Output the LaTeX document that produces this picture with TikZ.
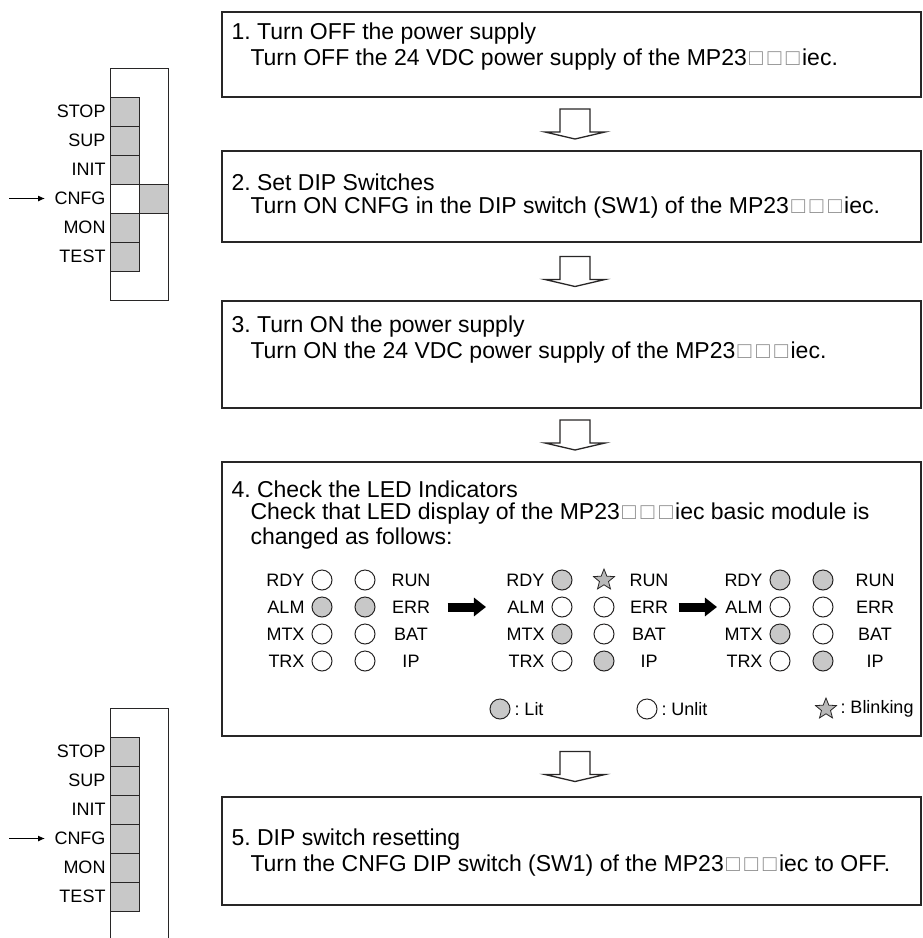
\documentclass[tikz,border=0pt]{standalone}
\usepackage{fontspec}
\setmainfont{Liberation Sans}
\usetikzlibrary{shapes.geometric,calc,arrows.meta}
\definecolor{litgray}{RGB}{200,200,200}
\definecolor{linegray}{RGB}{40,38,38}
\newcommand{\mpsq}{\textcolor{gray!90}{\makebox[0.8em]{□}\makebox[0.8em]{□}\makebox[0.8em]{□}}}
\frenchspacing

\begin{document}
\begin{tikzpicture}[x=1pt,y=-1pt,>={Latex[length=7pt,width=6pt]},line width=1pt,
  stepbox/.style={draw=linegray,line width=1.2pt,minimum width=699pt,inner sep=0pt},
  txt/.style={anchor=west,inner sep=0pt,font=\fontsize{23}{26}\selectfont},
  diplabel/.style={anchor=east,inner sep=0pt,font=\fontsize{18}{22}\selectfont},
  cell/.style={draw=linegray,fill=litgray},
  ledlabel/.style={inner sep=0pt,font=\fontsize{18}{22}\selectfont},
  lit/.style={circle,draw=linegray,fill=litgray,minimum size=20pt,inner sep=0pt},
  unlit/.style={circle,draw=linegray,fill=white,minimum size=20pt,inner sep=0pt},
  blink/.style={star,star points=5,star point ratio=2.3,draw=linegray,fill=litgray!80!gray,minimum size=22pt,inner sep=0pt,line width=0.8pt},
  flowarrow/.pic={\draw[linegray,line width=1.3pt,fill=white]
    (-15,-15) -- (15,-15) -- (15,8) -- (30,8) -- (0,15) -- (-30,8) -- (-15,8) -- cycle;},
  bigarrow/.style={line width=9pt,-{Triangle[length=12pt,width=18pt]}}]
  \useasboundingbox (0,0) rectangle (922,938);

  % DIP switch before the steps
  \draw[linegray] (110,68) rectangle (168,300);
  \foreach \lab [count=\i from 0] in {STOP,SUP,INIT,CNFG,MON,TEST}
    \node[diplabel] (up\lab) at (106,{111.5+29*\i}) {\lab};
  \foreach \i in {0,1,2,4,5}
    \draw[cell] (110,{97+29*\i}) rectangle ++(29,29);
  \draw[linegray] (110,184) rectangle ++(29,29);
  \draw[cell] (139,184) rectangle ++(29,29);
  \coordinate (upin) at (9,198.5);
  \draw[->] (upin) -- ([xshift=-9pt]upCNFG.west);

  % DIP switch after the steps
  \draw[linegray] (110,938) -- (110,708) -- (168,708) -- (168,938);
  \foreach \lab [count=\i from 0] in {STOP,SUP,INIT,CNFG,MON,TEST}{
    \node[diplabel] (dn\lab) at (106,{751.5+29*\i}) {\lab};
    \draw[cell] (110,{737+29*\i}) rectangle ++(29,29);
  }
  \coordinate (dnin) at (9,838.5);
  \draw[->] (dnin) -- ([xshift=-9pt]dnCNFG.west);

  % step 1
  \node[stepbox,minimum height=85pt] (s1) at (571.5,54.5) {};
  \node[txt] (s1a) at (231,34) {1. Turn OFF the power supply};
  \node[txt] (s1b) at (250,60) {Turn OFF the 24 VDC power supply of the MP23\mpsq iec.};

  % step 2
  \node[stepbox,minimum height=91pt] (s2) at (571.5,196.5) {};
  \node[txt] (s2a) at (231,182) {2. Set DIP Switches};
  \node[txt] (s2b) at (250,208) {Turn ON CNFG in the DIP switch (SW1) of the MP23\mpsq iec.};

  % step 3
  \node[stepbox,minimum height=107pt] (s3) at (571.5,354.5) {};
  \node[txt] (s3a) at (231,327) {3. Turn ON the power supply};
  \node[txt] (s3b) at (250,353) {Turn ON the 24 VDC power supply of the MP23\mpsq iec.};

  % step 4
  \node[stepbox,minimum height=274pt] (s4) at (571.5,599) {};
  \node[txt] (s4a) at (231,489) {4. Check the LED Indicators};
  \node[txt] (s4b) at (250,514) {Check that LED display of the MP23\mpsq iec basic module is};
  \node[txt] (s4c) at (250,539) {changed as follows:};

  % LEDs, before
  \foreach \l/\r/\sl/\sr [count=\i from 0] in
    {RDY/RUN/unlit/unlit, ALM/ERR/lit/lit, MTX/BAT/unlit/unlit, TRX/IP/unlit/unlit}{
    \node[ledlabel,anchor=east] (ga\l) at (305,{580+27*\i}) {\l};
    \node[\sl] (gaL\i) at (322,{580+27*\i}) {};
    \node[\sr] (gaR\i) at (365,{580+27*\i}) {};
    \node[ledlabel] (ga\r) at (411,{580+27*\i}) {\r};
  }
  % LEDs, during
  \foreach \l/\r/\sl/\sr [count=\i from 0] in
    {RDY/RUN/lit/blink, ALM/ERR/unlit/unlit, MTX/BAT/lit/unlit, TRX/IP/unlit/lit}{
    \node[ledlabel,anchor=east] (gb\l) at (545,{580+27*\i}) {\l};
    \node[\sl] (gbL\i) at (562,{580+27*\i}) {};
    \node[\sr] (gbR\i) at (604,{580+27*\i}) {};
    \node[ledlabel] (gb\r) at (649,{580+27*\i}) {\r};
  }
  % LEDs, after
  \foreach \l/\r/\sl/\sr [count=\i from 0] in
    {RDY/RUN/lit/lit, ALM/ERR/unlit/unlit, MTX/BAT/lit/unlit, TRX/IP/unlit/lit}{
    \node[ledlabel,anchor=east] (gc\l) at (763,{580+27*\i}) {\l};
    \node[\sl] (gcL\i) at (780,{580+27*\i}) {};
    \node[\sr] (gcR\i) at (823,{580+27*\i}) {};
    \node[ledlabel] (gc\r) at (875,{580+27*\i}) {\r};
  }
  \draw[bigarrow] ([xshift=17pt]gaERR.east) -- ([xshift=-21pt]gbALM.west);
  \draw[bigarrow] ([xshift=10pt]gbERR.east) -- ([xshift=-8pt]gcALM.west);

  % legend
  \node[lit] (keylit) at (500,709) {};
  \node[ledlabel,anchor=west] (keylittxt) at (514,709) {: Lit};
  \node[unlit] (keyoff) at (647,709) {};
  \node[ledlabel,anchor=west] (keyofftxt) at (661,709) {: Unlit};
  \node[blink] (keyblink) at (826,709) {};
  \node[ledlabel,anchor=west] (keyblinktxt) at (840,709) {: Blinking};

  % step 5
  \node[stepbox,minimum height=108pt] (s5) at (571.5,851) {};
  \node[txt] (s5a) at (231,840) {5. DIP switch resetting};
  \node[txt] (s5b) at (250,866) {Turn the CNFG DIP switch (SW1) of the MP23\mpsq iec to OFF.};

  % flow arrows
  \pic at ($(s1.south)!0.5!(s2.north)+(3.5,0)$) {flowarrow};
  \pic at ($(s2.south)!0.5!(s3.north)+(3.5,0)$) {flowarrow};
  \pic at ($(s3.south)!0.5!(s4.north)+(3.5,0)$) {flowarrow};
  \pic at ($(s4.south)!0.5!(s5.north)+(3.5,0)$) {flowarrow};
\end{tikzpicture}
\end{document}
